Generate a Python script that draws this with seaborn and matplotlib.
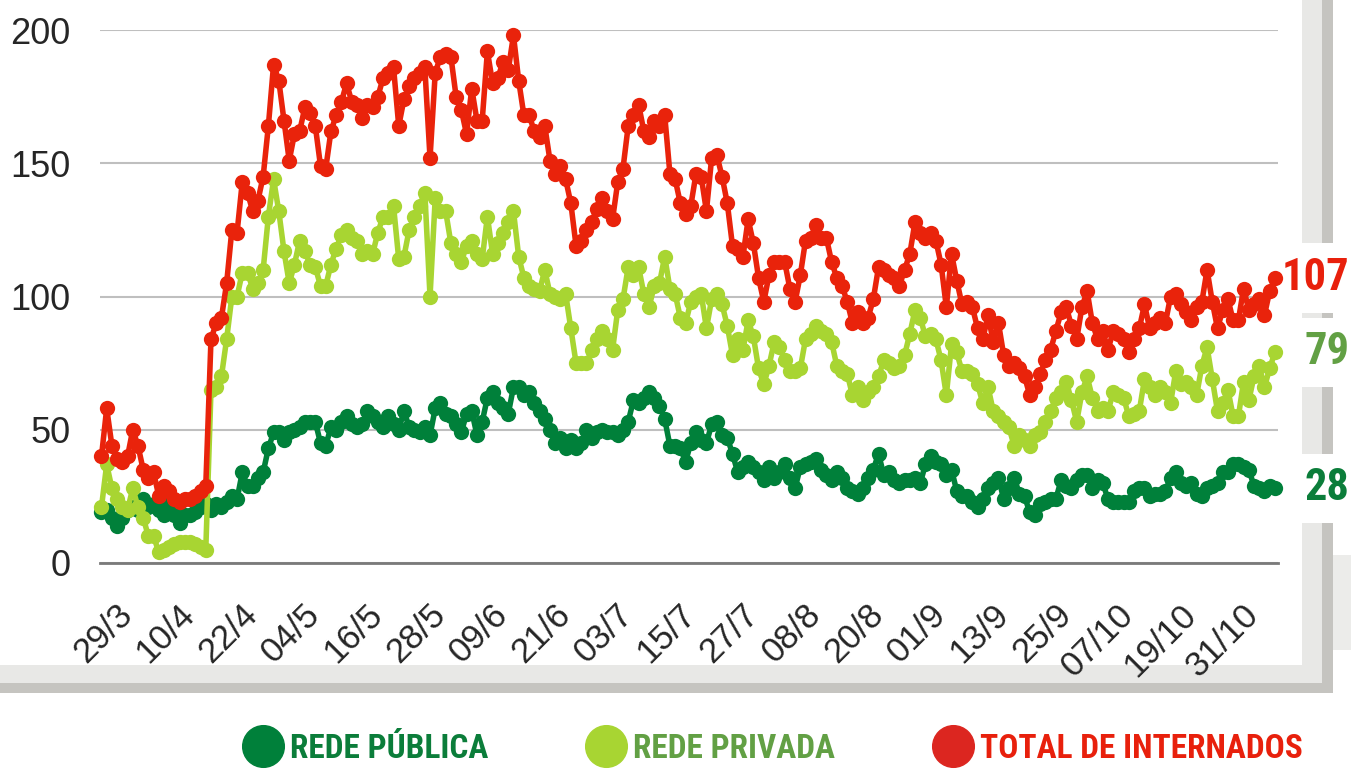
import numpy as np
import pandas as pd
import seaborn as sns
import matplotlib.pyplot as plt
import matplotlib.transforms as mtransforms
from matplotlib import font_manager as fm
from matplotlib.patches import Rectangle
from matplotlib.lines import Line2D

#------------------------------------------------------------------------------
# Internados por dia, de 29/3 a 9/11
total = [40, 58, 44, 39, 38, 40, 50, 44, 35, 32,
         34, 25, 29, 27, 24, 23, 24, 24, 25, 27,
         29, 84, 90, 92, 105, 125, 124, 143, 139, 132,
         136, 145, 164, 187, 181, 166, 151, 161, 162, 171,
         169, 164, 149, 148, 162, 168, 173, 180, 173, 172,
         167, 172, 171, 175, 182, 184, 186, 164, 174, 179,
         182, 184, 186, 152, 184, 190, 191, 190, 175, 170,
         161, 178, 166, 166, 192, 180, 182, 188, 185, 198,
         181, 168, 168, 162, 160, 164, 151, 146, 149, 144,
         135, 119, 121, 125, 128, 133, 137, 132, 129, 143,
         148, 164, 168, 172, 162, 160, 166, 164, 168, 146,
         144, 135, 131, 134, 146, 145, 132, 152, 153, 145,
         135, 119, 118, 115, 129, 120, 107, 98, 108, 113,
         113, 113, 103, 98, 108, 121, 122, 127, 122, 122,
         113, 107, 104, 98, 90, 94, 90, 92, 99, 111,
         110, 108, 107, 104, 110, 116, 128, 124, 122, 124,
         121, 112, 96, 116, 106, 97, 98, 96, 88, 84,
         93, 83, 90, 78, 74, 75, 73, 70, 63, 66,
         71, 76, 80, 87, 94, 96, 89, 84, 96, 102,
         90, 84, 87, 80, 87, 86, 84, 79, 84, 88,
         97, 88, 90, 92, 90, 100, 101, 97, 94, 91,
         96, 98, 110, 98, 88, 95, 99, 91, 91, 103,
         95, 97, 99, 93, 102, 107]

privada = [21, 37, 28, 24, 21, 20, 28, 21, 17, 10,
           10, 4, 5, 6, 7, 8, 8, 8, 7, 6,
           5, 65, 66, 70, 84, 100, 100, 109, 109, 103,
           105, 110, 130, 144, 132, 117, 105, 112, 121, 117,
           112, 111, 104, 104, 112, 118, 123, 125, 122, 121,
           116, 117, 116, 124, 130, 130, 134, 114, 115, 125,
           130, 134, 139, 100, 137, 132, 132, 120, 116, 113,
           119, 121, 116, 114, 130, 116, 120, 124, 128, 132,
           115, 107, 104, 103, 102, 110, 101, 100, 99, 101,
           88, 75, 75, 75, 80, 84, 87, 84, 80, 95,
           99, 111, 108, 111, 101, 96, 104, 105, 115, 103,
           101, 92, 90, 98, 100, 101, 88, 99, 101, 97,
           89, 78, 84, 80, 91, 85, 73, 67, 74, 83,
           81, 76, 72, 72, 73, 84, 86, 89, 87, 86,
           83, 74, 72, 71, 63, 66, 61, 64, 66, 70,
           76, 75, 73, 74, 78, 86, 95, 92, 85, 86,
           84, 76, 63, 82, 79, 72, 72, 71, 67, 60,
           66, 57, 55, 53, 51, 44, 48, 46, 44, 48,
           49, 53, 57, 62, 64, 68, 61, 53, 64, 70,
           62, 57, 58, 57, 64, 63, 62, 55, 56, 57,
           69, 66, 63, 66, 64, 60, 72, 67, 68, 66,
           63, 74, 81, 69, 57, 60, 65, 55, 55, 68,
           61, 70, 74, 66, 73, 79]

publica = [19, 20, 17, 14, 17, 20, 21, 20, 24, 21,
           22, 20, 18, 22, 18, 15, 18, 18, 19, 21,
           22, 20, 22, 21, 23, 25, 24, 34, 29, 29,
           32, 34, 43, 49, 49, 46, 49, 50, 51, 53,
           53, 53, 45, 44, 51, 50, 53, 55, 52, 51,
           52, 57, 55, 53, 51, 55, 52, 50, 57, 51,
           50, 49, 51, 48, 58, 60, 56, 55, 52, 49,
           56, 57, 48, 53, 62, 64, 60, 58, 56, 66,
           66, 63, 64, 60, 57, 54, 50, 45, 47, 43,
           46, 43, 45, 50, 47, 49, 50, 49, 49, 48,
           50, 53, 61, 60, 62, 64, 62, 59, 54, 44,
           44, 43, 38, 45, 49, 46, 45, 52, 53, 48,
           47, 41, 34, 36, 38, 36, 34, 31, 36, 32,
           34, 37, 32, 28, 36, 37, 38, 39, 35, 33,
           31, 34, 32, 28, 27, 26, 28, 32, 35, 41,
           33, 34, 31, 30, 31, 31, 32, 30, 37, 40,
           38, 37, 33, 35, 27, 25, 25, 23, 21, 24,
           28, 30, 32, 24, 28, 32, 26, 25, 19, 18,
           22, 23, 24, 24, 31, 29, 28, 31, 33, 33,
           28, 31, 30, 24, 23, 23, 23, 23, 27, 28,
           28, 25, 26, 26, 27, 32, 34, 30, 29, 30,
           26, 25, 28, 29, 30, 34, 34, 37, 37, 36,
           35, 29, 28, 27, 29, 28]

rotulos_x = ['29/3', '10/4', '22/4', '04/5', '16/5', '28/5', '09/6', '21/6', '03/7', '15/7',
             '27/7', '08/8', '20/8', '01/9', '13/9', '25/9', '07/10', '19/10', '31/10']
series = ['REDE PÚBLICA', 'REDE PRIVADA', 'TOTAL DE INTERNADOS']
cores = {'REDE PÚBLICA': '#00803a', 'REDE PRIVADA': '#a8d532', 'TOTAL DE INTERNADOS': '#e9230b'}
cores_legenda = ['#00803a', '#a8d532', '#dc2620']
cores_texto = ['#0b7d3a', '#62a044', '#e8200c']
#------------------------------------------------------------------------------

assert len(total) == len(privada) == len(publica)
dias = np.arange(len(total))
df = pd.DataFrame({'dia': np.tile(dias, 3),
                   'valor': publica + privada + total,
                   'serie': np.repeat(series, len(dias))})

# fonte condensada para a legenda e os números finais
nomes = {f.name for f in fm.fontManager.ttflist}
if 'Roboto Condensed' in nomes:
    cond = dict(family='Roboto Condensed', weight='bold')
elif 'Liberation Sans Narrow' in nomes:
    cond = dict(family='Liberation Sans Narrow', weight='bold')
else:
    cond = dict(family='DejaVu Sans', stretch='condensed', weight='bold')

sns.set_style('white')
plt.rcParams['font.family'] = ['Liberation Sans', 'DejaVu Sans']

W, H = 1351, 770
fig = plt.figure(figsize=(W / 100, H / 100), dpi=100)
ax = fig.add_axes([99.5 / W, 1 - 563 / H, (1278 - 99.5) / W, (563 - 30) / H])
ax.set_zorder(2)

sns.lineplot(data=df, x='dia', y='valor', hue='serie', hue_order=series, palette=cores,
             marker='o', markersize=11, markeredgewidth=0, linewidth=4,
             legend=False, ax=ax, clip_on=False, zorder=3)

ax.set_ylim(0, 200)
ax.set_xlim(-0.38, len(dias) - 0.4)
ax.set_yticks([0, 50, 100, 150, 200])
ax.set_xticks(dias[::12])
ax.set_xticklabels(rotulos_x, rotation=45, ha='right', va='top', rotation_mode='anchor', fontsize=25)
ax.tick_params(axis='x', length=0, pad=25)
ax.tick_params(axis='y', length=0, pad=21, labelsize=26)
desloc = mtransforms.ScaledTranslation(14 / 100, 0, fig.dpi_scale_trans)
for lab in ax.get_xticklabels():
    lab.set_transform(lab.get_transform() + desloc)
ax.set_xlabel('')
ax.set_ylabel('')
ax.grid(axis='y', color='#bfbfbf', linewidth=1.5)
ax.grid(axis='x', visible=False)
for lado in ['top', 'right', 'left']:
    ax.spines[lado].set_visible(False)
ax.spines['bottom'].set_color('#7a7a7a')
ax.spines['bottom'].set_linewidth(2)

# último valor de cada série, à direita (caixa branca por baixo das linhas)
for valores, cor in zip([publica, privada, total], cores_texto):
    ax.annotate(str(valores[-1]), xy=(dias[-1], valores[-1]), xytext=(53.5, 0),
                textcoords='offset points', ha='right', va='center', color=cor,
                fontsize=32, annotation_clip=False, zorder=1,
                bbox=dict(facecolor='white', edgecolor='none', pad=10), **cond)

# moldura cinza (sombra do cartão)
def retangulo(x0, y0, x1, y1, cor):
    fig.add_artist(Rectangle((x0 / W, 1 - y1 / H), (x1 - x0) / W, (y1 - y0) / H,
                             transform=fig.transFigure, facecolor=cor, edgecolor='none', zorder=0))

retangulo(0, 665, 1322, 683, '#e8e8e6')
retangulo(0, 683, 1333, 693, '#c5c4c0')
retangulo(1302, 0, 1322, 683, '#e8e8e6')
retangulo(1322, 0, 1333, 693, '#c5c4c0')
retangulo(1333, 555, 1351, 650, '#ececea')

# legenda
marcas = [Line2D([], [], marker='o', linestyle='', markersize=30, color=c) for c in cores_legenda]
fig.legend(marcas, series, loc='center', bbox_to_anchor=(772 / W, 1 - 749 / H), ncol=3,
           frameon=False, handletextpad=0.15, columnspacing=2.9, handlelength=1.3,
           prop=fm.FontProperties(size=24, **cond), labelcolor=cores_texto)

fig.savefig('out.png', dpi=100)
